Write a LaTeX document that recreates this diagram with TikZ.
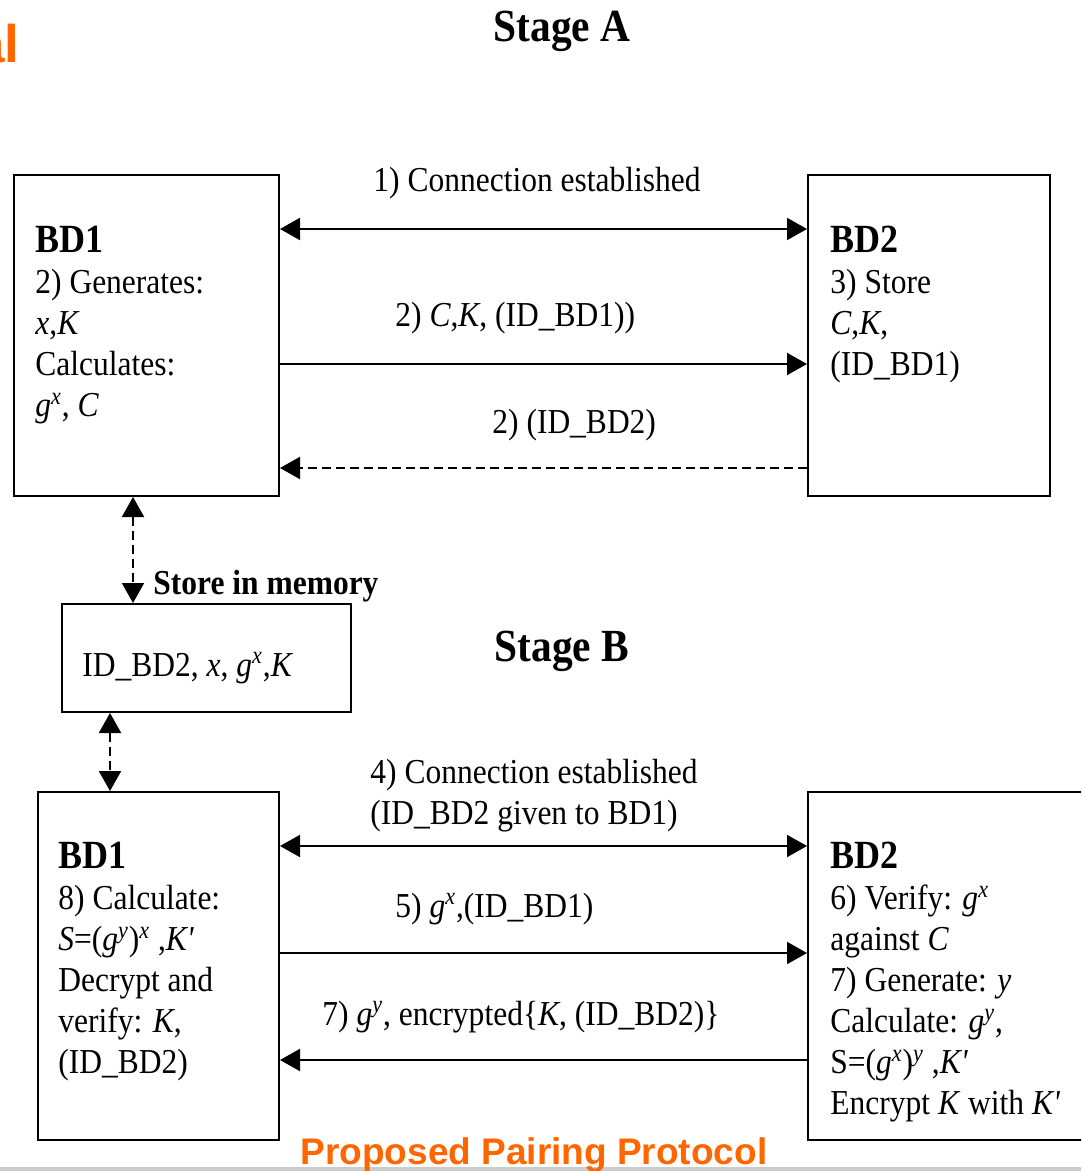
\documentclass[tikz,border=0pt]{standalone}
\usepackage{fontspec}
\setmainfont[FakeStretch=0.9]{Liberation Serif}
\setsansfont{Liberation Sans}
\usetikzlibrary{arrows.meta,positioning,calc}
\definecolor{slideorange}{RGB}{255,102,0}
\definecolor{rulegray}{RGB}{204,204,204}
\newcommand{\gpow}[1]{\textit{g}\textsuperscript{\textit{#1}}}
\newcommand{\devname}[1]{{\fontsize{20}{20.5}\selectfont\bfseries #1}}
\newcommand{\kprime}{\textit{K\textquotesingle}}

\begin{document}
\begin{tikzpicture}[x=0.5pt,y=-0.5pt,font=\fontsize{17.5}{20.5}\selectfont,
 box/.style={draw,line width=1pt,inner sep=0pt},
 txt/.style={inner sep=0pt,align=left,anchor=north west},
 lbl/.style={inner sep=0pt,anchor=base west},
 arr/.style={-{Triangle[length=10pt,width=11pt]},line width=1pt},
 dblarr/.style={{Triangle[length=10pt,width=11pt]}-{Triangle[length=10pt,width=11pt]},line width=1pt},
 dsh/.style={dash pattern=on 4.5pt off 2.5pt},
 stage/.style={font=\fontsize{23}{23}\selectfont\bfseries,inner sep=0pt,anchor=base}]
\useasboundingbox (0,0) rectangle (1081,1171);
\clip (0,0) rectangle (1081,1171);
\node[anchor=base east,inner sep=0pt,text=slideorange,font=\fontsize{26.5}{26.5}\selectfont\sffamily\bfseries] (cut) at (20,63) {al};
\node[stage] (stageA) at (562,42) {Stage A};
\node[stage] (stageB) at (562,661) {Stage B};
% stage A
\node[box,minimum width=132.5pt,minimum height=160.5pt] (devonea) at (146.5,335.5) {};
\node[box,minimum width=121pt,minimum height=160.5pt] (devtwoa) at (929,335.5) {};
\node[txt] (devoneatxt) at (35,226) {\devname{BD1}\\ 2) Generates:\\ \textit{x},\textit{K}\\ Calculates:\\ \gpow{x}, \textit{C}};
\node[txt] (devtwoatxt) at (830,226) {\devname{BD2}\\ 3) Store\\ \textit{C},\textit{K},\\ (ID\_BD1)};
\node[lbl] (connA) at (373,192) {1) Connection established};
\node[lbl] (msgCK) at (395,327) {2) \textit{C},\textit{K}, (ID\_BD1))};
\node[lbl] (msgID) at (492,433) {2) (ID\_BD2)};
\foreach \y/\s in {229/dblarr,364/arr} \draw[\s] (devonea.east |- 0,\y) -- (devtwoa.west |- 0,\y);
\draw[arr,dsh] (devtwoa.west |- 0,468) -- (devonea.east |- 0,468);
% memory
\node[box,minimum width=144.5pt,minimum height=54pt] (memory) at (206.5,658) {};
\node[lbl] (memtxt) at (82,676) {ID\_BD2, \textit{x}, \gpow{x},\textit{K}};
\node[lbl,font=\fontsize{17.5}{17.5}\selectfont\bfseries] (storeLbl) at (153,594) {Store in memory};
\draw[dblarr,dsh] (devonea.south -| 133,0) -- (memory.north -| 133,0);
% stage B
\node[box,minimum width=120.5pt,minimum height=174pt] (devoneb) at (158.5,966) {};
\node[box,minimum width=146pt,minimum height=174pt] (devtwob) at (954,966) {};
\draw[dblarr,dsh] (memory.south -| 110,0) -- (devoneb.north -| 110,0);
\node[txt] (devonebtxt) at (58,842) {\devname{BD1}\\ 8) Calculate:\\ \textit{S}=(\gpow{y})\textsuperscript{\textit{x}} ,\kprime\\ Decrypt and\\ verify: \textit{K},\\ (ID\_BD2)};
\node[txt] (devtwobtxt) at (830,842) {\devname{BD2}\\ 6) Verify: \gpow{x}\\ against \textit{C}\\ 7) Generate: \textit{y}\\ Calculate: \gpow{y},\\ S=(\gpow{x})\textsuperscript{\textit{y}} ,\kprime\\ Encrypt \textit{K} with \kprime};
\node[txt] (connB) at (370,759) {4) Connection established\\ (ID\_BD2 given to BD1)};
\node[lbl] (msgGx) at (395,917) {5) \gpow{x},(ID\_BD1)};
\node[lbl] (msgGy) at (322,1025) {7) \gpow{y}, encrypted\{\textit{K}, (ID\_BD2)\}};
\foreach \y/\s in {846/dblarr,953/arr} \draw[\s] (devoneb.east |- 0,\y) -- (devtwob.west |- 0,\y);
\draw[arr] (devtwob.west |- 0,1060) -- (devoneb.east |- 0,1060);
% footer
\fill[rulegray] (0,1167) rectangle (1081,1171);
\node[anchor=base,inner sep=0pt,text=slideorange,font=\fontsize{18.5}{18.5}\selectfont\sffamily\bfseries] (caption) at (534,1164) {Proposed Pairing Protocol};
\end{tikzpicture}
\end{document}
